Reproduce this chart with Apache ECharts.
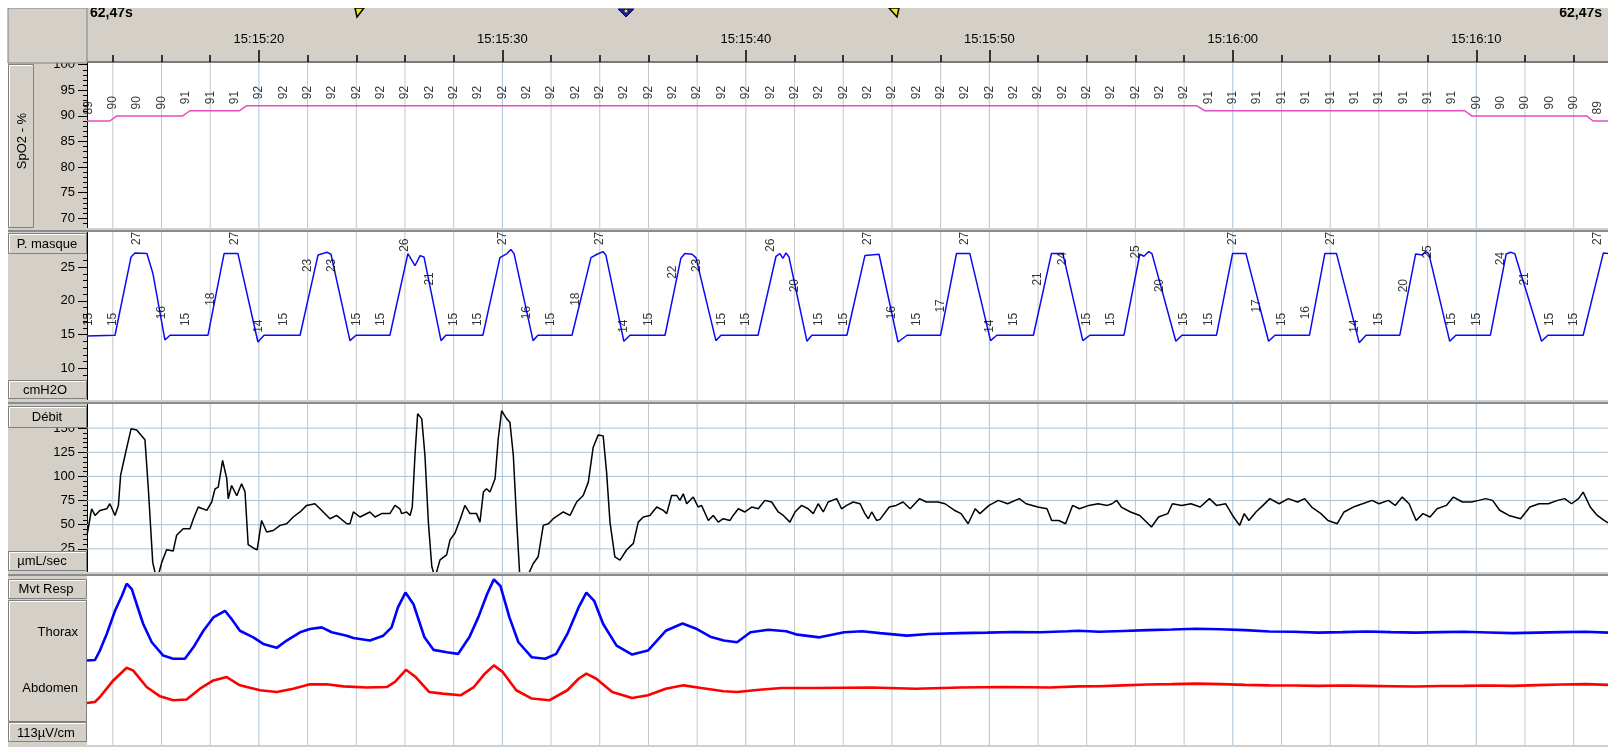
<!DOCTYPE html>
<html>
<head>
<meta charset="utf-8">
<script src="https://cdn.jsdelivr.net/npm/echarts@6/dist/echarts.min.js"></script>
<style>
  html, body { margin: 0; padding: 0; background: #fff; }
  #chart {
    width: 1608px; height: 747px;
    background: linear-gradient(to right, #fff 0, #fff 8px, #d4d0c8 8px, #d4d0c8 87px, transparent 87px);
  }
</style>
</head>
<body>
<div id="chart"></div>
<script>
var FONT = '"Liberation Sans", Arial, sans-serif';
var COL = '#d4d0c8';

// time axis, seconds after 15:15:00
var tStart = 12.94, tEnd = 75.41;
var majorTimes = [20, 30, 40, 50, 60, 70];
var minorTimes = [14, 16, 18, 22, 24, 26, 28, 32, 34, 36, 38, 42, 44, 46, 48, 52, 54, 56, 58, 62, 64, 66, 68, 72, 74];

// y tick labels
var spo2Ticks = [70, 75, 80, 85, 90, 95, 100];
var pmasqueTicks = [10, 15, 20, 25];
var debitTicks = [25, 50, 75, 100, 125, 150];

var spo2Range = [67.9, 100.33];
var pmasqueRange = [5.3, 30.2];
var debitRange = [0, 175];
var mvtRange = [0, 100];

// SpO2 (%)
var spo2Trace = [[12.94, 89], [13.88, 89], [14.16, 90], [16.87, 90], [17.17, 91], [19.19, 91], [19.50, 92],
  [58.51, 92], [58.85, 91], [69.53, 91], [69.81, 90], [74.53, 90], [74.80, 89], [75.41, 89]];
// values written every second, 13 s .. 75 s
var spo2Values = [89, 90, 90, 90, 91, 91, 91,
  92, 92, 92, 92, 92, 92, 92, 92, 92, 92, 92, 92, 92, 92, 92, 92, 92, 92, 92, 92,
  92, 92, 92, 92, 92, 92, 92, 92, 92, 92, 92, 92, 92, 92, 92, 92, 92, 92, 92,
  91, 91, 91, 91, 91, 91, 91, 91, 91, 91, 91,
  90, 90, 90, 90, 90, 89];

// P. masque (cmH2O)
var pmasqueTrace = [
  [12.94, 14.8], [14.09, 14.9], [14.75, 26.5], [14.91, 27.1], [15.40, 27.0], [15.65, 24.0], [16.14, 14.2], [16.35, 14.9],
  [17.91, 14.9], [18.57, 27.0], [19.14, 27.0], [19.96, 13.9], [20.21, 14.9],
  [21.69, 14.9], [22.43, 26.8], [22.80, 27.2], [22.96, 26.9], [23.74, 14.1], [23.99, 14.9],
  [25.38, 14.9], [26.12, 27.0], [26.41, 25.2], [26.62, 26.7], [26.78, 26.5], [27.48, 14.1], [27.68, 14.9],
  [29.20, 14.9], [29.90, 26.4], [30.19, 27.0], [30.35, 27.6], [30.48, 27.0], [31.26, 14.1], [31.46, 14.9],
  [32.86, 14.9], [33.64, 26.4], [33.89, 26.9], [34.13, 27.3], [34.25, 26.8], [34.99, 14.0], [35.24, 14.9],
  [36.68, 14.9], [37.33, 26.3], [37.50, 27.0], [37.79, 26.9], [37.95, 26.4], [38.77, 14.1], [38.98, 14.9],
  [40.50, 14.9], [41.24, 26.6], [41.40, 27.0], [41.52, 26.3], [41.65, 27.1], [41.77, 26.5], [42.51, 14.0], [42.71, 14.9],
  [44.15, 14.9], [44.89, 26.7], [45.47, 26.9], [46.25, 13.9], [46.62, 14.9],
  [48.00, 14.9], [48.65, 27.0], [49.20, 27.0], [50.05, 14.1], [50.31, 14.9],
  [51.81, 14.9], [52.55, 27.0], [53.02, 27.0], [53.84, 14.1], [54.13, 14.9],
  [55.53, 14.9], [56.18, 26.9], [56.35, 26.6], [56.55, 27.3], [56.68, 27.0], [57.66, 14.0], [57.91, 14.9],
  [59.33, 14.9], [59.99, 27.0], [60.54, 27.0], [61.47, 14.0], [61.73, 14.9],
  [63.15, 14.9], [63.78, 27.0], [64.26, 27.0], [65.19, 13.8], [65.47, 14.9],
  [66.86, 14.9], [67.51, 26.95], [67.79, 26.8], [67.92, 27.3], [68.05, 27.0], [68.91, 14.0], [69.16, 14.9],
  [70.58, 14.9], [71.23, 26.95], [71.41, 27.2], [71.58, 27.0], [72.68, 14.0], [72.94, 14.9],
  [74.39, 14.9], [75.22, 27.1], [75.41, 27.0]
];
var pmasqueValues = [15, 15, 27, 16, 15, 18, 27, 14, 15, 23,
  23, 15, 15, 26, 21, 15, 15, 27, 16, 15,
  18, 27, 14, 15, 22, 23, 15, 15, 26, 20,
  15, 15, 27, 16, 15, 17, 27, 14, 15, 21,
  24, 15, 15, 25, 20, 15, 15, 27, 17, 15,
  16, 27, 14, 15, 20, 25, 15, 15, 24, 21,
  15, 15, 27];

// Débit (µmL/sec)
var debitTrace = [
  [12.94, 39], [13.13, 66.5], [13.27, 59.6], [13.47, 64.8], [13.75, 66.5], [13.88, 71.7], [14.09, 59.6], [14.23, 70],
  [14.32, 101], [14.50, 121.7], [14.75, 149.3], [14.98, 148], [15.32, 138], [15.46, 87], [15.64, 11], [15.81, -8],
  [16.01, 11], [16.21, 24], [16.48, 22.8], [16.62, 39], [16.89, 45.9], [17.17, 45.9], [17.31, 56.2], [17.51, 68.3],
  [17.86, 64.8], [18.06, 73.5], [18.20, 87.2], [18.33, 89], [18.51, 116.5], [18.68, 97.7], [18.74, 76.9], [18.88, 90.6],
  [19.09, 80], [19.29, 92.4], [19.43, 84], [19.56, 29.3], [19.77, 25.9], [19.93, 24], [20.11, 54.4], [20.32, 42.4],
  [20.59, 44], [20.87, 49.3], [21.14, 51], [21.41, 58], [21.69, 63.2], [21.96, 70], [22.30, 71.7], [22.51, 66.5],
  [22.92, 56.2], [23.19, 59.6], [23.61, 51], [23.74, 51], [23.88, 63.2], [24.15, 58], [24.56, 63.2], [24.77, 58],
  [25.04, 61.5], [25.38, 61.5], [25.59, 70], [25.79, 66.5], [25.86, 61.5], [26.07, 63.2], [26.21, 59.6], [26.30, 68.3],
  [26.41, 121.7], [26.52, 164.8], [26.69, 159.6], [26.82, 121.7], [26.96, 52.7], [27.10, 7], [27.23, -5], [27.44, 13.6],
  [27.71, 18.8], [27.85, 34.3], [28.05, 41.2], [28.26, 55.2], [28.46, 70], [28.67, 61.5], [28.94, 61.5], [29.08, 52.7],
  [29.22, 83.8], [29.35, 87.2], [29.49, 83.8], [29.70, 97.6], [29.83, 139], [29.97, 168], [30.18, 159.6], [30.31, 156],
  [30.45, 121.7], [30.59, 52.7], [30.72, -5], [31.00, -5], [31.27, 9.8], [31.47, 16.8], [31.68, 49.3], [31.89, 51],
  [32.09, 56.2], [32.50, 63.2], [32.78, 59.6], [33.05, 73.5], [33.32, 80.3], [33.53, 94.1], [33.73, 130.3], [33.94, 143],
  [34.14, 142], [34.28, 104.5], [34.42, 52.7], [34.62, 16.8], [34.83, 13.4], [35.10, 23.8], [35.38, 30.7], [35.58, 52.7],
  [35.79, 58], [36.06, 59.6], [36.34, 68.3], [36.61, 64.8], [36.75, 61.5], [36.95, 80.3], [37.16, 80.3], [37.29, 75.2],
  [37.43, 82], [37.57, 71.7], [37.84, 78.6], [38.04, 68.3], [38.18, 70], [38.46, 54.4], [38.66, 59.6], [38.87, 52.7],
  [39.07, 56.2], [39.35, 54.4], [39.48, 59.6], [39.69, 66.5], [39.96, 63.2], [40.24, 68.3], [40.51, 66.5], [40.78, 75.2],
  [41.06, 73.5], [41.33, 63.2], [41.54, 59.6], [41.81, 52.7], [42.02, 63.2], [42.29, 70], [42.56, 66.5], [42.77, 61.5],
  [42.97, 71.7], [43.18, 63.2], [43.38, 73.5], [43.73, 77], [43.93, 66.5], [44.14, 70], [44.41, 73.5], [44.69, 71.7],
  [44.89, 61.5], [45.03, 56.2], [45.17, 63.2], [45.37, 54.4], [45.51, 55.5], [45.89, 68.3], [46.17, 70], [46.46, 73.5],
  [46.75, 66.5], [47.13, 77], [47.41, 73.5], [47.89, 73.5], [48.18, 71.7], [48.56, 65], [48.84, 61.5], [49.13, 51],
  [49.42, 66.5], [49.61, 61.5], [49.99, 70], [50.37, 75.2], [50.75, 71.7], [51.23, 77], [51.51, 71.7], [51.99, 68.3],
  [52.37, 66.5], [52.56, 54.4], [52.85, 54.4], [53.13, 51], [53.42, 70], [53.70, 66.5], [54.09, 70], [54.47, 71.7],
  [54.85, 70], [55.04, 71.7], [55.23, 75.2], [55.42, 68.3], [55.80, 63.2], [56.18, 59.6], [56.66, 47.6], [56.95, 58],
  [57.33, 61.5], [57.52, 71.7], [57.90, 70], [58.28, 71.7], [58.66, 68.3], [59.04, 77], [59.33, 70], [59.71, 71.7],
  [59.99, 59.6], [60.28, 49.3], [60.47, 61.5], [60.66, 54.4], [60.95, 63.2], [61.24, 70], [61.52, 77], [61.90, 71.7],
  [62.28, 77], [62.66, 73.5], [62.95, 77], [63.24, 68.3], [63.62, 61.5], [63.91, 54.4], [64.29, 51], [64.57, 63.2],
  [64.95, 68.3], [65.33, 71.7], [65.72, 75.2], [66.00, 71.7], [66.39, 75.2], [66.67, 70], [66.96, 78.6], [67.24, 71.7],
  [67.53, 54.4], [67.81, 61.5], [68.10, 58], [68.39, 66.5], [68.77, 70], [69.06, 78.6], [69.43, 73.5], [69.81, 73.5],
  [70.10, 75.2], [70.39, 77], [70.67, 75.2], [70.96, 65], [71.34, 59.6], [71.82, 56.2], [72.20, 68.3], [72.58, 71.7],
  [72.96, 71.7], [73.34, 75.2], [73.63, 77], [73.91, 71.7], [74.20, 77], [74.39, 83.8], [74.68, 68.3], [74.97, 59.6],
  [75.25, 54.4], [75.41, 52]
];

// Mvt Resp (relative units, 113µV/cm)
var thoraxTrace = [
  [12.94, 50], [13.27, 50.3], [13.47, 55.9], [13.75, 65.7], [14.09, 79.4], [14.37, 88.2], [14.57, 95.5], [14.78, 92.2],
  [14.98, 83.3], [15.25, 71.6], [15.60, 60.8], [16.07, 52.9], [16.48, 51], [16.96, 51], [17.31, 57.8], [17.72, 67.6],
  [18.13, 75.5], [18.61, 79.4], [18.88, 74.5], [19.22, 67.6], [19.77, 63.7], [20.18, 59.8], [20.73, 57.5], [21.14, 61.8],
  [21.69, 66.7], [22.10, 68.6], [22.58, 69.6], [22.99, 66.7], [23.61, 64.7], [23.88, 63.3], [24.56, 61.8], [25.11, 64.7],
  [25.45, 69.6], [25.71, 81.4], [26.02, 90.2], [26.35, 83.3], [26.80, 63.7], [27.17, 56.3], [27.72, 54.9], [28.18, 53.9],
  [28.64, 63.7], [29.01, 75.5], [29.37, 89.2], [29.65, 98], [29.92, 94.1], [30.29, 75.5], [30.66, 60.8], [31.21, 51.9],
  [31.76, 51], [32.21, 53.9], [32.67, 65.7], [33.13, 81.4], [33.45, 90.2], [33.77, 85.3], [34.14, 71.6], [34.69, 58.8],
  [35.33, 53.5], [35.98, 55.9], [36.71, 67.6], [37.40, 71.9], [37.99, 68.6], [38.54, 64.1], [39.09, 61.8], [39.64, 60.8],
  [40.19, 66.7], [40.92, 68.2], [41.66, 67.3], [42.12, 65.3], [43.03, 63.7], [44.04, 66.7], [44.77, 67.3], [45.51, 66.2],
  [46.61, 64.7], [47.52, 65.7], [48.81, 66.2], [49.91, 66.5], [51.01, 66.9], [52.11, 66.7], [53.21, 67.3], [53.66, 67.6],
  [54.5, 67.0], [55.5, 67.5], [56.5, 68.0], [57.5, 68.3], [58.5, 68.8], [59.5, 68.5], [60.5, 68.0], [61.5, 67.2],
  [62.5, 67.0], [63.5, 66.5], [64.5, 66.8], [65.5, 67.2], [66.5, 66.8], [67.5, 66.5], [68.5, 66.8], [69.5, 67.0],
  [70.5, 66.6], [71.5, 66.2], [72.5, 66.5], [73.5, 66.8], [74.5, 67.0], [75.41, 66.5]
];
var abdomenTrace = [
  [12.94, 24.9], [13.27, 25.5], [13.47, 28.4], [14.02, 38.2], [14.57, 45.7], [14.84, 44], [15.39, 34.3], [15.94, 28.8],
  [16.48, 26.5], [17.03, 26.9], [17.58, 33.3], [18.13, 38.2], [18.68, 40.2], [19.22, 35.3], [20.05, 32.4], [20.73, 31.4],
  [21.41, 33.3], [22.10, 35.9], [22.78, 35.9], [23.47, 34.7], [24.43, 34], [25.25, 34.3], [25.59, 37.3], [26.04, 44.5],
  [26.44, 40.2], [26.99, 31.4], [27.54, 30.4], [28.28, 29.4], [28.83, 34.3], [29.28, 42.2], [29.65, 47.1], [30.02, 43.1],
  [30.57, 32.4], [31.21, 27.5], [31.94, 26.5], [32.67, 32.4], [33.13, 39.2], [33.45, 42.2], [33.86, 39.2], [34.51, 31.4],
  [35.33, 27.8], [35.98, 29.4], [36.71, 33.3], [37.44, 35.3], [38.17, 33.7], [39.09, 31.8], [39.64, 31.4], [40.56, 32.7],
  [41.47, 33.7], [42.94, 33.7], [45.14, 34], [46.97, 33.3], [48.81, 34], [50.64, 34.3], [52.47, 34], [53.66, 34.7],
  [54.5, 34.8], [55.5, 35.3], [56.5, 35.8], [57.5, 36.0], [58.5, 36.3], [59.5, 36.0], [60.5, 35.6], [61.5, 35.3],
  [62.5, 35.2], [63.5, 35.0], [64.5, 35.2], [65.5, 35.0], [66.5, 34.8], [67.5, 34.6], [68.5, 34.9], [69.5, 35.0],
  [70.5, 35.2], [71.5, 35.0], [72.5, 35.4], [73.5, 35.8], [74.5, 36.0], [75.41, 35.6]
];

var valueSeconds = [];
for (var s = 13; s <= 75; s++) valueSeconds.push(s);

function steps(a, b, st) {
  var r = [];
  for (var v = a; v <= b + 1e-9; v += st) r.push(v);
  return r;
}

function fmtTime(v) {
  var m = 15 + Math.floor(v / 60);
  var sec = Math.round(v % 60);
  return '15:' + m + ':' + (sec < 10 ? '0' + sec : sec);
}

var myChart = echarts.init(document.getElementById('chart'));

function xHidden(g) {
  return { type: 'value', gridIndex: g, min: tStart, max: tEnd, show: false };
}
function yMajor(g, range, ticks) {
  return {
    type: 'value', gridIndex: g, min: range[0], max: range[1], position: 'left',
    axisLine: { show: true, lineStyle: { color: '#000', width: 1 } },
    axisTick: { show: true, customValues: ticks, length: 9, lineStyle: { color: '#000' } },
    axisLabel: { show: true, customValues: ticks, margin: 12, color: '#000', fontSize: 13, fontFamily: FONT },
    splitLine: { show: false }
  };
}
function yMinor(g, range, ticks) {
  return {
    type: 'value', gridIndex: g, min: range[0], max: range[1], position: 'left',
    axisLine: { show: false },
    axisTick: { show: true, customValues: ticks, length: 4, lineStyle: { color: '#000' } },
    axisLabel: { show: false },
    splitLine: { show: false }
  };
}

// vertical grid lines, as broken line series
function vLines(xi, yi, range, times, color) {
  var d = [];
  times.forEach(function (t) { d.push([t, range[0]], [t, range[1]], [t, '-']); });
  return { type: 'line', xAxisIndex: xi, yAxisIndex: yi, data: d, symbol: 'none', silent: true, z: 1,
    connectNulls: false, lineStyle: { color: color, width: 1 }, animation: false };
}
function hLines(xi, yi, values, color) {
  var d = [];
  values.forEach(function (v) { d.push([tStart, v], [tEnd, v], ['-', v]); });
  return { type: 'line', xAxisIndex: xi, yAxisIndex: yi, data: d, symbol: 'none', silent: true, z: 1,
    connectNulls: false, lineStyle: { color: color, width: 1 }, animation: false };
}
function trace(xi, yi, data, color, width) {
  return { type: 'line', xAxisIndex: xi, yAxisIndex: yi, data: data, symbol: 'none', z: 3,
    lineStyle: { color: color, width: width }, animation: false };
}
function valueLabels(xi, yi, values, dist) {
  return {
    type: 'scatter', xAxisIndex: xi, yAxisIndex: yi, silent: true, z: 4, animation: false,
    data: valueSeconds.map(function (s, i) { return [s, values[i]]; }),
    symbolSize: 1, itemStyle: { color: 'rgba(0,0,0,0)' },
    label: { show: true, position: 'top', distance: dist, rotate: 90, align: 'left', verticalAlign: 'middle',
      fontSize: 12, fontFamily: FONT, color: '#000',
      formatter: function (p) { return p.value[1]; } }
  };
}

var GRID_MINOR = '#c6c6c6', GRID_MAJOR = '#a9c2d6';

function box(x, y, w, h) {
  return [
    { type: 'rect', z: 10, shape: { x: x, y: y, width: w, height: h }, style: { fill: COL, stroke: '#808080', lineWidth: 1 } },
    { type: 'polyline', z: 10, shape: { points: [[x + 1, y + h - 1], [x + 1, y + 1], [x + w - 1, y + 1]] }, style: { stroke: '#fff', lineWidth: 1, fill: null } }
  ];
}
function label(text, x, y, align, rot) {
  return { type: 'text', z: 11, x: x, y: y, rotation: rot || 0,
    style: { text: text, font: '13px ' + FONT, fill: '#000', align: align || 'center', verticalAlign: 'middle',
      textAlign: align || 'center', textVerticalAlign: 'middle' } };
}
function sep(y) {
  return [
    { type: 'rect', z: 12, shape: { x: 8, y: y, width: 1600, height: 4 }, style: { fill: '#cfcfcf' } },
    { type: 'rect', z: 12, shape: { x: 8, y: y + 2, width: 1600, height: 2 }, style: { fill: '#8c8c8c' } }
  ];
}

var graphics = [].concat(
  [{ type: 'rect', z: 10, shape: { x: 8, y: 8, width: 79, height: 55 }, style: { fill: COL, stroke: '#808080', lineWidth: 1 } }],
  box(8.5, 64.5, 25, 163),
  [label('SpO2 - %', 22, 141, 'center', Math.PI / 2)],
  box(8.5, 233.5, 78, 20), [label('P. masque', 47, 244)],
  box(8.5, 380.5, 78, 18), [label('cmH2O', 45, 390)],
  box(8.5, 406.5, 78, 21), [label('Débit', 47, 417)],
  box(8.5, 551.5, 78, 19), [label('µmL/sec', 42, 561)],
  box(8.5, 579.5, 78, 19), [label('Mvt Resp', 46, 589)],
  box(8.5, 600.5, 78, 121), [label('Thorax', 78, 632, 'right'), label('Abdomen', 78, 688, 'right')],
  box(8.5, 722.5, 78, 19), [label('113µV/cm', 46, 733)],
  sep(228), sep(400), sep(572),
  [{ type: 'rect', z: 12, shape: { x: 8, y: 745, width: 1600, height: 2 }, style: { fill: '#cfcfcf' } }],
  [
    { type: 'text', z: 11, x: 90, y: 13, style: { text: '62,47s', font: 'bold 14px ' + FONT, fill: '#000', align: 'left', verticalAlign: 'middle', textAlign: 'left', textVerticalAlign: 'middle' } },
    { type: 'text', z: 11, x: 1602, y: 13, style: { text: '62,47s', font: 'bold 14px ' + FONT, fill: '#000', align: 'right', verticalAlign: 'middle', textAlign: 'right', textVerticalAlign: 'middle' } },
    { type: 'polygon', z: 11, shape: { points: [[355, 8], [364, 8], [357, 17]] }, style: { fill: '#f5e600', stroke: '#000', lineWidth: 1.5 } },
    { type: 'polygon', z: 11, shape: { points: [[618, 9], [634, 9], [626, 17]] }, style: { fill: '#1c1c9c', stroke: '#0c0c60', lineWidth: 1 } },
    { type: 'circle', z: 12, shape: { cx: 626, cy: 11, r: 1.5 }, style: { fill: '#f5e600' } },
    { type: 'polygon', z: 11, shape: { points: [[889, 8], [899, 8], [897, 17]] }, style: { fill: '#f5e600', stroke: '#000', lineWidth: 1.5 } },
    { type: 'rect', z: 20, shape: { x: 0, y: 0, width: 1608, height: 8 }, style: { fill: '#fff' } }
  ]
);

var option = {
  animation: false,
  graphic: { elements: graphics },
  grid: [
    { left: 87, right: 0, top: 8, height: 54, show: true, backgroundColor: COL, borderWidth: 0 },
    { left: 87, right: 0, top: 63, height: 166 },
    { left: 87, right: 0, top: 232, height: 168 },
    { left: 87, right: 0, top: 404, height: 169 },
    { left: 87, right: 0, top: 576, height: 169 },
    { left: 87, right: 0, top: 8, height: 54 }
  ],
  xAxis: [
    {
      type: 'value', gridIndex: 0, min: tStart, max: tEnd, position: 'bottom',
      axisLine: { show: true, lineStyle: { color: '#7a7a7a', width: 2 } },
      axisTick: { show: true, inside: true, length: 12, customValues: majorTimes, lineStyle: { color: '#000', width: 1.5 } },
      axisLabel: { show: true, inside: true, margin: 16, customValues: majorTimes, formatter: fmtTime,
        color: '#000', fontSize: 13, fontFamily: FONT },
      splitLine: { show: false }
    },
    xHidden(1), xHidden(2), xHidden(3), xHidden(4),
    {
      type: 'value', gridIndex: 5, min: tStart, max: tEnd, position: 'bottom',
      axisLine: { show: false },
      axisTick: { show: true, inside: true, length: 7, customValues: minorTimes, lineStyle: { color: '#000', width: 1.5 } },
      axisLabel: { show: false }, splitLine: { show: false }
    }
  ],
  yAxis: [
    yMajor(1, spo2Range, spo2Ticks),
    yMinor(1, spo2Range, steps(68, 100, 1)),
    yMajor(2, pmasqueRange, pmasqueTicks),
    yMinor(2, pmasqueRange, steps(6, 30, 1)),
    yMajor(3, debitRange, debitTicks),
    yMinor(3, debitRange, steps(5, 170, 5)),
    { type: 'value', gridIndex: 4, min: mvtRange[0], max: mvtRange[1], show: false },
    { type: 'value', gridIndex: 0, min: 0, max: 1, show: false },
    { type: 'value', gridIndex: 5, min: 0, max: 1, show: false }
  ],
  series: [
    vLines(1, 0, spo2Range, minorTimes, GRID_MINOR), vLines(1, 0, spo2Range, majorTimes, GRID_MAJOR),
    vLines(2, 2, pmasqueRange, minorTimes, GRID_MINOR), vLines(2, 2, pmasqueRange, majorTimes, GRID_MAJOR),
    hLines(3, 4, debitTicks, GRID_MAJOR),
    vLines(3, 4, debitRange, minorTimes, GRID_MINOR), vLines(3, 4, debitRange, majorTimes, GRID_MAJOR),
    vLines(4, 6, mvtRange, minorTimes, GRID_MINOR), vLines(4, 6, mvtRange, majorTimes, GRID_MAJOR),

    trace(1, 0, spo2Trace, '#e34dbf', 1.5),
    valueLabels(1, 0, spo2Values, 6),
    trace(2, 2, pmasqueTrace, '#0a0af5', 1.5),
    valueLabels(2, 2, pmasqueValues, 8),
    trace(3, 4, debitTrace, '#000', 1.5),
    trace(4, 6, thoraxTrace, '#0000ff', 2.6),
    trace(4, 6, abdomenTrace, '#ff0000', 2.6)
  ]
};

myChart.setOption(option);
</script>
</body>
</html>
